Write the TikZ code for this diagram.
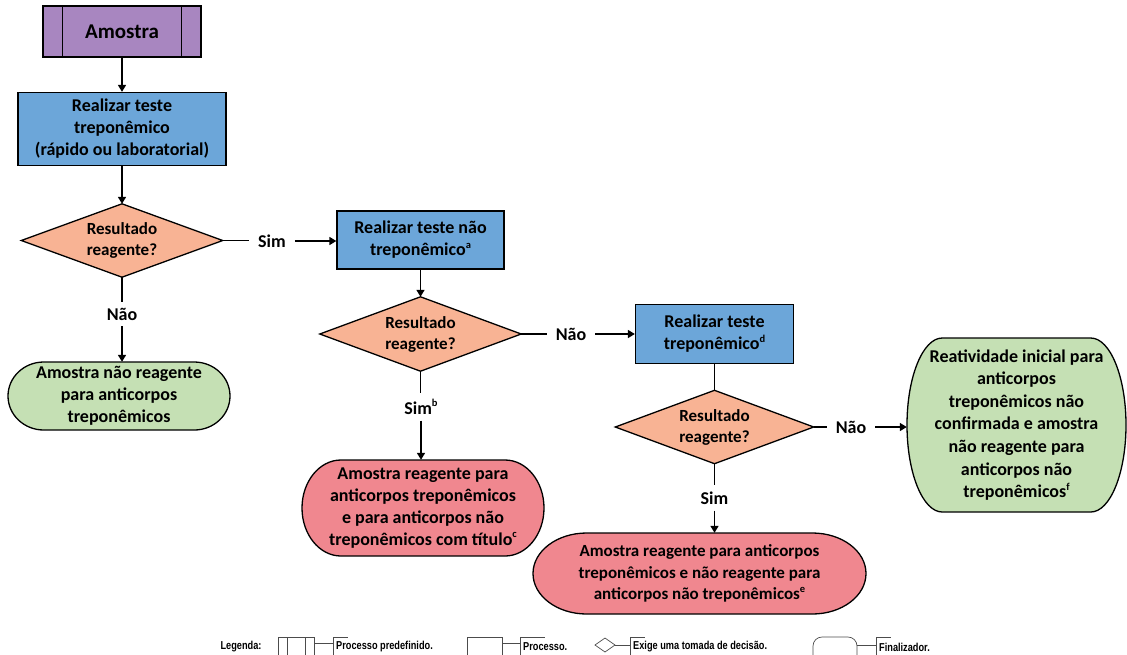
\documentclass[tikz,border=0pt]{standalone}
\usepackage{fontspec}
\setmainfont{Carlito}
\newfontfamily\legfont[FakeStretch=0.8]{Liberation Sans}
\usetikzlibrary{arrows.meta,calc,backgrounds}

\definecolor{cpurple}{HTML}{A886C0}
\definecolor{cblue}{HTML}{6CA6D9}
\definecolor{corange}{HTML}{F8B394}
\definecolor{cgreen}{HTML}{C5E0B4}
\definecolor{cred}{HTML}{F0878F}

\newcommand\mysup[1]{\raisebox{0.42em}{\fontsize{10.5}{10.5}\selectfont #1}}

\tikzset{
  shapeline/.style={draw=black, line width=1.3pt},
  txt/.style={align=center, inner sep=0pt, font=\bfseries\fontsize{18}{22}\selectfont},
  conn/.style={draw=black, line width=1.6pt},
  arr/.style={conn, -{Triangle[length=7pt,width=8pt]}},
  lbl/.style={font=\bfseries\fontsize{18}{20}\selectfont, inner xsep=9pt, inner ysep=6pt},
  legline/.style={draw=black!70, line width=0.7pt},
  legtxt/.style={font=\legfont\bfseries\fontsize{11.5}{13}\selectfont, inner sep=0pt, anchor=west},
}

\newcommand\decision[6]{%
  \node[txt, font=\bfseries\fontsize{17}{21}\selectfont, minimum width=#4pt, minimum height=#5pt] (#1) at (#2,#3) {#6};
  \begin{scope}[on background layer]
    \path[shapeline, fill=corange] (#1.north) -- (#1.east) -- (#1.south) -- (#1.west) -- cycle;
  \end{scope}}

\newcommand\terminal[8][]{%
  \pgfmathsetmacro\tmxr{0.161*#5}%
  \pgfmathsetmacro\tmyr{#6/2}%
  \pgfmathsetmacro\tmL{#3-#5/2}\pgfmathsetmacro\tmR{#3+#5/2}%
  \pgfmathsetmacro\tmT{#4-#6/2}\pgfmathsetmacro\tmB{#4+#6/2}%
  \path[shapeline, fill=#7] (\tmL+\tmxr,\tmT) -- (\tmR-\tmxr,\tmT)
     arc[start angle=90, end angle=-90, x radius=\tmxr pt, y radius=\tmyr pt]
     -- (\tmL+\tmxr,\tmB)
     arc[start angle=270, end angle=90, x radius=\tmxr pt, y radius=\tmyr pt] -- cycle;
  \node[txt, minimum width=#5pt, minimum height=#6pt, #1] (#2) at (#3,#4) {#8};}

\begin{document}
\begin{tikzpicture}[x=1pt, y=-1pt]
\useasboundingbox (0,0) rectangle (1127,654);

% ---- column 1
\node[txt, shapeline, fill=cpurple, minimum width=158pt, minimum height=51pt,
      font=\bfseries\fontsize{21}{24}\selectfont] (am) at (122,31.5) {Amostra};
\draw[shapeline] ([xshift=20pt]am.north west) -- ([xshift=20pt]am.south west);
\draw[shapeline] ([xshift=-20pt]am.north east) -- ([xshift=-20pt]am.south east);

\node[txt, shapeline, fill=cblue, minimum width=208pt, minimum height=73pt] (p1) at (122,129)
  {Realizar teste\\treponêmico\\(rápido ou laboratorial)};

\decision{d1}{122}{240.5}{201}{73}{Resultado\\reagente?}

\terminal{g1}{119}{396}{222}{68}{cgreen}{Amostra não reagente\\para anticorpos\\treponêmicos}

% ---- column 2
\node[txt, shapeline, fill=cblue, minimum width=167pt, minimum height=58pt] (p2) at (420.5,240)
  {Realizar teste não\\treponêmico\mysup{a}};

\decision{d2}{420.5}{334}{201}{74}{Resultado\\reagente?}

\terminal{r1}{423}{508}{242}{96}{cred}{Amostra reagente para\\anticorpos treponêmicos\\e para anticorpos não\\treponêmicos com título\mysup{c}}

% ---- column 3
\node[txt, shapeline, fill=cblue, minimum width=158pt, minimum height=59pt] (p3) at (714.5,334)
  {Realizar teste\\treponêmico\mysup{d}};

\decision{d3}{714.5}{427}{198}{73}{Resultado\\reagente?}

\terminal[font=\bfseries\fontsize{17}{21.5}\selectfont]{r2}{699.5}{573.5}{333}{81}{cred}{Amostra reagente para anticorpos\\treponêmicos e não reagente para\\anticorpos não treponêmicos\mysup{e}}

\terminal[font=\bfseries\fontsize{18}{22.6}\selectfont]{g2}{1016.5}{425}{219}{174}{cgreen}{Reatividade inicial para\\anticorpos\\treponêmicos não\\confirmada e amostra\\não reagente para\\anticorpos não\\treponêmicos\mysup{f}}

% ---- labels
\node[lbl] (s1) at (272,241) {Sim};
\node[lbl] (n1) at (122,314) {Não};
\node[lbl] (n2) at (571,334) {Não};
\node[lbl] (s2) at (421,407) {Sim\mysup{b}};
\node[lbl] (n3) at (851,427) {Não};
\node[lbl] (s3) at (714.5,498) {Sim};

% ---- connectors
\draw[arr] (am.south) -- (am.south |- p1.north);
\draw[arr] (p1.south) -- (p1.south |- d1.north);
\draw[conn] (d1.east) -- (d1.east -| s1.west);
\draw[arr] (s1.east) -- (s1.east -| p2.west);
\draw[conn] (d1.south) -- (d1.south |- n1.north);
\draw[arr] (n1.south) -- (n1.south |- g1.north);

\draw[arr] (p2.south) -- (p2.south |- d2.north);
\draw[conn] (d2.east) -- (d2.east -| n2.west);
\draw[arr] (n2.east) -- (n2.east -| p3.west);
\draw[conn] (d2.south) -- (d2.south |- s2.north);
\draw[arr] (s2.south) -- (s2.south |- r1.north);

\draw[conn] (p3.south) -- (p3.south |- d3.north);
\draw[conn] (d3.east) -- (d3.east -| n3.west);
\draw[arr] (n3.east) -- (n3.east -| g2.west);
\draw[conn] (d3.south) -- (d3.south |- s3.north);
\draw[arr] (s3.south) -- (s3.south |- r2.north);

% ---- legend
\node[legtxt, anchor=center] (lg) at (241,647) {Legenda:};
\draw[legline] (278,662) -- (278,637) -- (314,637) -- (314,662);
\draw[legline] (287,637) -- (287,662) (305,637) -- (305,662);
\draw[legline] (314,643) -- (333,643) (333,662) -- (333,637) -- (348,637);
\node[legtxt] (lt1) at (336,647) {Processo predefinido.};

\draw[legline] (467,662) -- (467,637) -- (502,637) -- (502,662);
\draw[legline] (502,643) -- (520,643) (520,662) -- (520,637) -- (545,637);
\node[legtxt] (lt2) at (523,647) {Processo.};

\draw[legline] (595,645) -- (605,638) -- (615,645) -- (605,652) -- cycle;
\draw[legline] (615,645) -- (630,645) (630,662) -- (630,637) -- (645,637);
\node[legtxt] (lt3) at (633,647) {Exige uma tomada de decisão.};

\draw[legline, rounded corners=9pt] (813,672) rectangle (857,637);
\draw[legline] (857,645) -- (876,645) (876,662) -- (876,637) -- (891,637);
\node[legtxt] (lt4) at (879,647) {Finalizador.};
\end{tikzpicture}
\end{document}
